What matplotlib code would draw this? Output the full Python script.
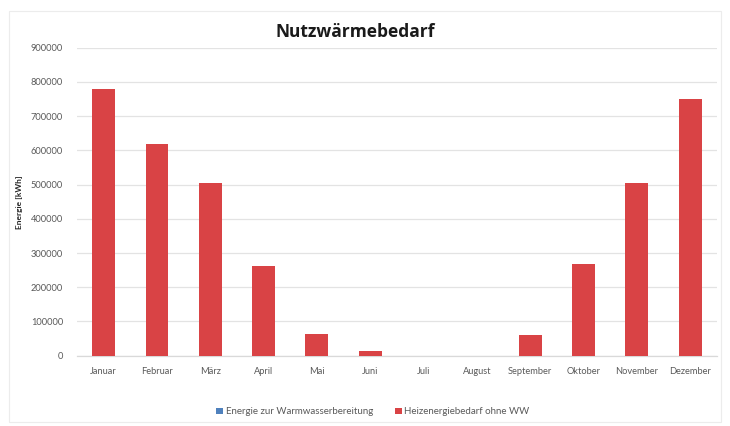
import matplotlib
matplotlib.use("Agg")
import matplotlib.pyplot as plt
from matplotlib.patches import Rectangle

months = ["Januar", "Februar", "März", "April", "Mai", "Juni", "Juli",
          "August", "September", "Oktober", "November", "Dezember"]
warmwasser = [0, 0, 0, 0, 0, 0, 0, 0, 0, 0, 0, 0]
heizenergie = [780000, 619000, 504000, 263000, 64000, 13000, 0, 0,
               61000, 269000, 504000, 750000]
yticks = [0, 100000, 200000, 300000, 400000, 500000, 600000, 700000, 800000, 900000]

blue = "#4f81bd"
red = "#d94345"
tick_col = "#595959"
font = ["Lato", "DejaVu Sans"]

fig = plt.figure(figsize=(7.3, 4.26), dpi=100)
fig.patch.set_facecolor("white")

# light chart frame
fig.patches.append(Rectangle((0.012, 0.01), 0.975, 0.965, transform=fig.transFigure,
                             fill=False, edgecolor="#ececec", linewidth=0.8))

ax = fig.add_axes([0.1055, 0.165, 0.8765, 0.723])
x = range(len(months))
ax.bar(x, warmwasser, width=0.43, color=blue, label="Energie zur Warmwasserbereitung", zorder=3)
ax.bar(x, heizenergie, width=0.43, bottom=warmwasser, color=red,
       label="Heizenergiebedarf ohne WW", zorder=3)

ax.set_xlim(-0.5, len(months) - 0.5)
ax.set_ylim(0, 900000)
ax.set_yticks(yticks)
ax.set_yticklabels([str(v) for v in yticks], fontsize=6.7, color=tick_col, family=font)
ax.set_xticks(list(x))
ax.set_xticklabels(months, fontsize=6.7, color=tick_col, family=font)
ax.tick_params(axis="both", length=0, pad=8)
ax.tick_params(axis="y", pad=10)
ax.grid(axis="y", color="#e3e3e3", linewidth=0.9, zorder=0)
for s in ["top", "right", "left"]:
    ax.spines[s].set_visible(False)
ax.spines["bottom"].set_color("#d9d9d9")
ax.spines["bottom"].set_linewidth(0.9)

ax.set_ylabel("Energie [kWh]", fontsize=6, fontweight="bold", family=font, color="#262626",
              labelpad=6)

fig.text(0.486, 0.925, "Nutzwärmebedarf", ha="center", va="center", fontsize=12.5,
         fontweight="bold", family=["Open Sans", "DejaVu Sans"], color="#1a1a1a")

fig.legend(loc="center", bbox_to_anchor=(0.511, 0.033), ncol=2, frameon=False,
           prop={"family": font, "size": 7}, handlelength=0.7, handleheight=0.7,
           handletextpad=0.3, columnspacing=2.2, labelcolor=tick_col)

fig.savefig("out.png", dpi=100, facecolor="white")
